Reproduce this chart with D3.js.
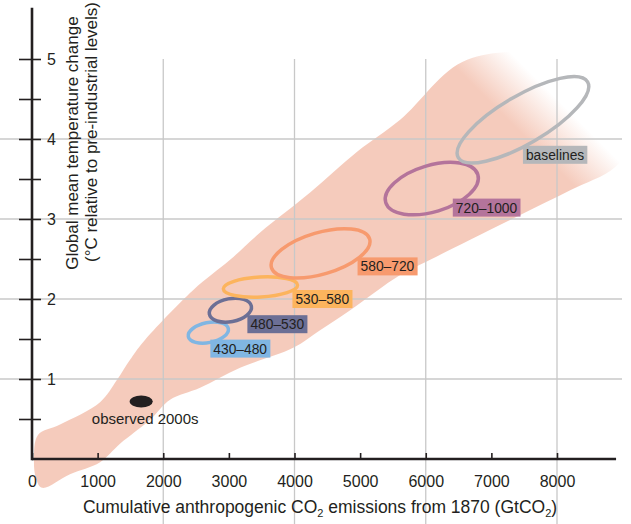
<!DOCTYPE html>
<html>
  <head>
    <meta charset="utf-8" />
    <title>Temperature vs cumulative CO2</title>
    <script src="https://d3js.org/d3.v7.min.js"></script>
    <style>
      body { margin: 0; background: #fff; }
      text { font-family: "Liberation Sans", Arial, sans-serif; fill: #231f20; }
    </style>
  </head>
  <body>
    <div id="chart"></div>
    <script>
      // ---- data ----
      var emissionTicks = [0, 1000, 2000, 3000, 4000, 5000, 6000, 7000, 8000];
      var tempTicks = [0.5, 1, 1.5, 2, 2.5, 3, 3.5, 4, 4.5, 5];
      var gridEmissions = [2000, 4000, 6000, 8000];
      var gridTemps = [1, 2, 3, 4];

      // plume outline (GtCO2, degC), upper edge then lower edge back
      var plumeUpper = [[30, -0.01], [91, 0.3], [427, 0.43], [1037, 0.71], [1296, 0.99], [1494, 1.24],
        [1692, 1.46], [2454, 2.11], [3018, 2.49], [3476, 2.83], [4238, 3.33], [4954, 3.84],
        [5610, 4.24], [6631, 4.99], [8049, 4.99], [9268, 4.11]];
      var plumeLower = [[8887, 3.65], [8201, 3.36], [7439, 3.05], [6677, 2.74], [6067, 2.49],
        [5610, 2.3], [4848, 1.86], [4390, 1.61], [3979, 1.39], [3171, 1.14], [2561, 0.89],
        [2104, 0.74], [1799, 0.49], [1341, 0.19], [1037, -0.04], [579, -0.19], [152, -0.36], [61, -0.24]];

      // scenario ellipses: centre, half span of main axis, minor half width (degC)
      var scenarios = ["430–480", "480–530", "530–580", "580–720", "720–1000", "baselines"];
      var scenCx = [2687, 3023, 3481, 4397, 6092, 7481];
      var scenCy = [1.58, 1.86, 2.15, 2.57, 3.38, 4.24];
      var scenDx = [305, 320, 565, 748, 702, 985];
      var scenDy = [0.05, 0.05, 0.025, 0.18, 0.174, 0.473];
      var scenHalfWidth = [0.125, 0.144, 0.125, 0.26, 0.29, 0.3];

      var observed = { label: "observed 2000s", cx: 1664, cy: 0.72, dx: 176, dy: 0, hw: 0.075 };

      var scenColors = ["#80b6e3", "#6c6f95", "#fcb45d", "#f79a6e", "#b4749b", "#b5b7ba"];
      var labelOffsets = [[2, 7], [17, 5], [32, 3], [37, 4], [21, 10], [0, 26]];

      // ---- chart ----
      var width = 631, height = 524;
      var svg = d3.select("#chart").append("svg")
        .attr("width", width)
        .attr("height", height)
        .style("background-color", "#fff");

      var x = d3.scaleLinear().domain([0, 8000]).range([32, 557]);
      var y = d3.scaleLinear().domain([0, 5]).range([459, 59]);

      // plume with fade at upper right
      var defs = svg.append("defs");
      var grad = defs.append("linearGradient")
        .attr("id", "plumeFade")
        .attr("gradientUnits", "userSpaceOnUse")
        .attr("x1", 470).attr("y1", 82)
        .attr("x2", 505).attr("y2", 47);
      grad.append("stop").attr("offset", 0).attr("stop-color", "#f5cbbc").attr("stop-opacity", 1);
      grad.append("stop").attr("offset", 1).attr("stop-color", "#f5cbbc").attr("stop-opacity", 0);

      var plumeLine = d3.line()
        .x(function (d) { return x(d[0]); })
        .y(function (d) { return y(d[1]); })
        .curve(d3.curveCatmullRomClosed.alpha(0.5));

      svg.append("path")
        .attr("d", plumeLine(plumeUpper.concat(plumeLower)))
        .attr("fill", "url(#plumeFade)");

      // gridlines
      svg.append("g").selectAll("line")
        .data(gridTemps)
        .enter().append("line")
        .attr("x1", 0).attr("x2", 622)
        .attr("y1", function (d) { return y(d); })
        .attr("y2", function (d) { return y(d); })
        .attr("stroke", "#c8c8c8").attr("stroke-width", 1.3);

      svg.append("g").selectAll("line")
        .data(gridEmissions)
        .enter().append("line")
        .attr("x1", function (d) { return x(d); })
        .attr("x2", function (d) { return x(d); })
        .attr("y1", y(5)).attr("y2", height)
        .attr("stroke", "#c8c8c8").attr("stroke-width", 1.3);

      // ellipse helper: rotated ellipse from data centre and axis vectors
      function ellipseAttrs(cx, cy, dx, dy, hw) {
        var px = x(cx), py = y(cy);
        var ax = x(cx + dx) - px, ay = y(cy + dy) - py;
        return {
          cx: px, cy: py,
          rx: Math.sqrt(ax * ax + ay * ay),
          ry: Math.abs(y(cy + hw) - py),
          angle: Math.atan2(ay, ax) * 180 / Math.PI
        };
      }

      var ell = scenarios.map(function (s, i) {
        return ellipseAttrs(scenCx[i], scenCy[i], scenDx[i], scenDy[i], scenHalfWidth[i]);
      });

      svg.append("g").selectAll("ellipse")
        .data(ell)
        .enter().append("ellipse")
        .attr("transform", function (e) { return "translate(" + e.cx + "," + e.cy + ") rotate(" + e.angle + ")"; })
        .attr("rx", function (e) { return e.rx; })
        .attr("ry", function (e) { return e.ry; })
        .attr("fill", "none")
        .attr("stroke", function (e, i) { return scenColors[i]; })
        .attr("stroke-width", 3.5);

      // labels
      var labels = svg.append("g").selectAll("g")
        .data(scenarios)
        .enter().append("g")
        .attr("transform", function (d, i) {
          return "translate(" + (ell[i].cx + labelOffsets[i][0]) + "," + (ell[i].cy + labelOffsets[i][1]) + ")";
        });
      labels.append("rect").attr("fill", function (d, i) { return scenColors[i]; });
      labels.append("text")
        .attr("x", 3).attr("y", 14)
        .style("font-size", "13.8px")
        .text(function (d) { return d; });
      labels.each(function () {
        var g = d3.select(this);
        var bb = g.select("text").node().getBBox();
        g.select("rect").attr("x", 0).attr("y", 0).attr("width", bb.width + 6).attr("height", 18);
      });

      // observed 2000s
      var ob = ellipseAttrs(observed.cx, observed.cy, observed.dx, observed.dy, observed.hw);
      svg.append("ellipse")
        .attr("cx", ob.cx).attr("cy", ob.cy)
        .attr("rx", ob.rx).attr("ry", ob.ry)
        .attr("fill", "#231f20");
      svg.append("text")
        .attr("x", ob.cx + 4).attr("y", ob.cy + 23)
        .attr("text-anchor", "middle")
        .style("font-size", "15px")
        .text(observed.label);

      // axes
      var yAxis = svg.append("g")
        .attr("transform", "translate(" + x(0) + ",0)")
        .call(d3.axisRight(y).tickValues(tempTicks).tickSize(9).tickPadding(6)
          .tickFormat(function (d) { return Number.isInteger(d) ? d : ""; }));
      yAxis.select(".domain").remove();
      yAxis.selectAll(".tick line").attr("x1", -13).attr("x2", 9).attr("stroke", "#231f20").attr("stroke-width", 1.6);
      yAxis.selectAll(".tick text").style("font-size", "16px").attr("fill", "#231f20");

      var xAxis = svg.append("g")
        .attr("transform", "translate(0," + y(0) + ")")
        .call(d3.axisBottom(x).tickValues(emissionTicks).tickSizeInner(-6).tickSizeOuter(0).tickPadding(17)
          .tickFormat(d3.format("d")));
      xAxis.select(".domain").remove();
      xAxis.selectAll(".tick line").attr("stroke", "#231f20").attr("stroke-width", 1.6);
      xAxis.selectAll(".tick text").style("font-size", "16px").attr("fill", "#231f20");

      svg.append("line")
        .attr("x1", x(0)).attr("x2", x(8900))
        .attr("y1", y(0)).attr("y2", y(0))
        .attr("stroke", "#231f20").attr("stroke-width", 2.6);
      svg.append("line")
        .attr("x1", x(0)).attr("x2", x(0))
        .attr("y1", y(0) + 1.3).attr("y2", y(5.64))
        .attr("stroke", "#231f20").attr("stroke-width", 2.6);

      // axis titles
      var xt = svg.append("text")
        .attr("x", 320).attr("y", 513)
        .attr("text-anchor", "middle")
        .style("font-size", "17.5px");
      xt.append("tspan").text("Cumulative anthropogenic CO");
      xt.append("tspan").attr("dy", 4).style("font-size", "11px").text("2");
      xt.append("tspan").attr("dy", -4).text(" emissions from 1870 (GtCO");
      xt.append("tspan").attr("dy", 4).style("font-size", "11px").text("2");
      xt.append("tspan").attr("dy", -4).text(")");

      svg.append("text")
        .attr("transform", "translate(78,143) rotate(-90)")
        .attr("text-anchor", "middle")
        .style("font-size", "17px")
        .text("Global mean temperature change");
      svg.append("text")
        .attr("transform", "translate(97,132) rotate(-90)")
        .attr("text-anchor", "middle")
        .style("font-size", "17px")
        .text("(°C relative to pre-industrial levels)");
    </script>
  </body>
</html>
